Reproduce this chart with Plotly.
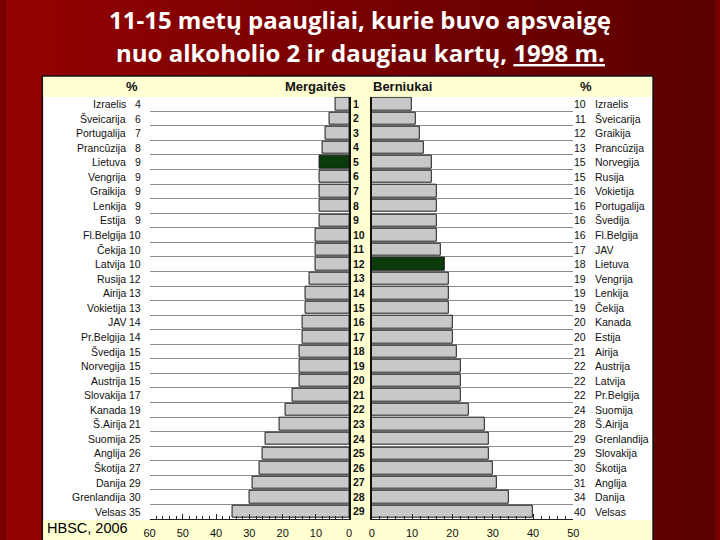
import plotly.graph_objects as go

W, H = 720, 540

ranks = list(range(1, 30))
girls_countries = ["Izraelis", "Šveicarija", "Portugalija", "Prancūzija", "Lietuva", "Vengrija",
                   "Graikija", "Lenkija", "Estija", "Fl.Belgija", "Čekija", "Latvija", "Rusija",
                   "Airija", "Vokietija", "JAV", "Pr.Belgija", "Švedija", "Norvegija", "Austrija",
                   "Slovakija", "Kanada", "Š.Airija", "Suomija", "Anglija", "Škotija", "Danija",
                   "Grenlandija", "Velsas"]
girls_values = [4, 6, 7, 8, 9, 9, 9, 9, 9, 10, 10, 10, 12, 13, 13, 14, 14, 15, 15, 15,
                17, 19, 21, 25, 26, 27, 29, 30, 35]
boys_countries = ["Izraelis", "Šveicarija", "Graikija", "Prancūzija", "Norvegija", "Rusija",
                  "Vokietija", "Portugalija", "Švedija", "Fl.Belgija", "JAV", "Lietuva", "Vengrija",
                  "Lenkija", "Čekija", "Kanada", "Estija", "Airija", "Austrija", "Latvija",
                  "Pr.Belgija", "Suomija", "Š.Airija", "Grenlandija", "Slovakija", "Škotija",
                  "Anglija", "Danija", "Velsas"]
boys_values = [10, 11, 12, 13, 15, 15, 16, 16, 16, 16, 17, 18, 19, 19, 19, 20, 20, 21, 22, 22,
               22, 24, 28, 29, 29, 30, 31, 34, 40]
highlight = "Lietuva"
left_ticks = [0, 10, 20, 30, 40, 50, 60]
right_ticks = [0, 10, 20, 30, 40, 50]

GREY = "#c8c8c8"
GREEN = "#0b3a0b"
YEL = "#ffffd2"
FONT = "Liberation Sans, Arial, sans-serif"
TFONT = "Open Sans, DejaVu Sans, sans-serif"

def px(x):
    return x / W

def py(y):
    return 1 - y / H

girls_colors = [GREEN if c == highlight else GREY for c in girls_countries]
boys_colors = [GREEN if c == highlight else GREY for c in boys_countries]

fig = go.Figure()
fig.add_trace(go.Bar(x=girls_values, y=ranks, orientation="h", xaxis="x", yaxis="y",
                     marker=dict(color=girls_colors, line=dict(color="#1a1a1a", width=1)),
                     width=0.86, showlegend=False, hoverinfo="x+y"))
fig.add_trace(go.Bar(x=boys_values, y=ranks, orientation="h", xaxis="x2", yaxis="y2",
                     marker=dict(color=boys_colors, line=dict(color="#1a1a1a", width=1)),
                     width=0.86, showlegend=False, hoverinfo="x+y"))

shapes = []
# background gradient (dark red)
n = 60
c0 = (0x94, 0x03, 0x03)
c1 = (0x5c, 0x00, 0x00)
for i in range(n):
    t = i / (n - 1)
    col = "rgb(%d,%d,%d)" % tuple(int(a + (b - a) * t) for a, b in zip(c0, c1))
    shapes.append(dict(type="rect", xref="paper", yref="paper", x0=i / n, x1=(i + 1) / n + 0.002,
                       y0=0, y1=1, fillcolor=col, line=dict(width=0), layer="below"))
# white panel
shapes.append(dict(type="rect", xref="paper", yref="paper", x0=px(37), x1=px(658), y0=py(541), y1=py(76),
                   fillcolor="white", line=dict(color="#111", width=1.5), layer="below"))
# top band
shapes.append(dict(type="rect", xref="paper", yref="paper", x0=px(38), x1=px(657), y0=py(97), y1=py(77),
                   fillcolor=YEL, line=dict(width=0), layer="below"))
# bottom band
shapes.append(dict(type="rect", xref="paper", yref="paper", x0=px(38), x1=px(657), y0=py(540), y1=py(520),
                   fillcolor=YEL, line=dict(width=0), layer="below"))
# center column
shapes.append(dict(type="rect", xref="paper", yref="paper", x0=px(349), x1=px(372), y0=py(520), y1=py(97),
                   fillcolor=YEL, line=dict(width=0), layer="below"))

annotations = []
# title
annotations.append(dict(xref="paper", yref="paper", x=0.5, y=py(19), xanchor="center", yanchor="middle",
                        text="11-15 metų paaugliai, kurie buvo apsvaigę", showarrow=False,
                        font=dict(family=TFONT, size=24, color="white", weight="bold")))
annotations.append(dict(xref="paper", yref="paper", x=0.5, y=py(52), xanchor="center", yanchor="middle",
                        text="nuo alkoholio 2 ir daugiau kartų, <u>1998 m.</u>", showarrow=False,
                        font=dict(family=TFONT, size=24, color="white", weight="bold")))
# headers
hfont = dict(family=FONT, size=13, color="#111", weight="bold")
annotations += [
    dict(xref="paper", yref="paper", x=px(128), y=py(87), text="%", showarrow=False, font=hfont,
         xanchor="center", yanchor="middle"),
    dict(xref="paper", yref="paper", x=px(348), y=py(87), text="Mergaitės", showarrow=False, font=hfont,
         xanchor="right", yanchor="middle"),
    dict(xref="paper", yref="paper", x=px(371), y=py(87), text="Berniukai", showarrow=False, font=hfont,
         xanchor="left", yanchor="middle"),
    dict(xref="paper", yref="paper", x=px(590), y=py(87), text="%", showarrow=False, font=hfont,
         xanchor="center", yanchor="middle"),
    dict(xref="paper", yref="paper", x=px(40), y=py(528), text="HBSC, 2006", showarrow=False,
         font=dict(family=FONT, size=14.5, color="black"), xanchor="left", yanchor="middle"),
]
lfont = dict(family=FONT, size=10.5, color="#111")
for r, c, v in zip(ranks, girls_countries, girls_values):
    annotations.append(dict(xref="paper", yref="y", x=px(124), y=r, text=c, showarrow=False, font=lfont,
                            xanchor="right", yanchor="middle"))
    annotations.append(dict(xref="paper", yref="y", x=px(139), y=r, text=str(v), showarrow=False, font=lfont,
                            xanchor="right", yanchor="middle"))
for r, c, v in zip(ranks, boys_countries, boys_values):
    annotations.append(dict(xref="paper", yref="y", x=px(592), y=r, text=str(v), showarrow=False, font=lfont,
                            xanchor="right", yanchor="middle"))
    annotations.append(dict(xref="paper", yref="y", x=px(597), y=r, text=c, showarrow=False, font=lfont,
                            xanchor="left", yanchor="middle"))

ydom = [py(519), py(96.7)]
common_x = dict(showgrid=False, zeroline=False, showline=True, linecolor="#222", linewidth=1,
                ticks="inside", ticklen=5, tickcolor="#222", ticklabelstandoff=4,
                tickfont=dict(family=FONT, size=11, color="#111"),
                minor=dict(dtick=2, ticks="inside", ticklen=3, tickcolor="#222"))

fig.update_layout(
    width=W, height=H, margin=dict(l=0, r=0, t=0, b=0),
    paper_bgcolor="#7a0000", plot_bgcolor="rgba(0,0,0,0)",
    bargap=0, barmode="overlay",
    shapes=shapes, annotations=annotations,
    xaxis=dict(domain=[px(146), px(349)], range=[60, 0], tickvals=left_ticks, anchor="y", **common_x),
    xaxis2=dict(domain=[px(372), px(577)], range=[0, 50], tickvals=right_ticks, anchor="y2", **common_x),
    yaxis=dict(domain=ydom, range=[29.5, 0.5], anchor="x", side="right", tickvals=ranks,
               ticktext=["<b>%d</b>" % r for r in ranks], ticks="", showline=True, linecolor="#111",
               linewidth=1.5, showgrid=False, zeroline=False,
               tickfont=dict(family=FONT, size=10.5, color="#111"),
               minor=dict(tick0=0.5, dtick=1, showgrid=True, gridcolor="#8c8c8c", gridwidth=1)),
    yaxis2=dict(domain=ydom, range=[29.5, 0.5], anchor="x2", side="left", showticklabels=False,
                ticks="", showline=True, linecolor="#111", linewidth=1.5, showgrid=False, zeroline=False,
                minor=dict(tick0=0.5, dtick=1, showgrid=True, gridcolor="#8c8c8c", gridwidth=1)),
)

fig.write_html("out.html")
